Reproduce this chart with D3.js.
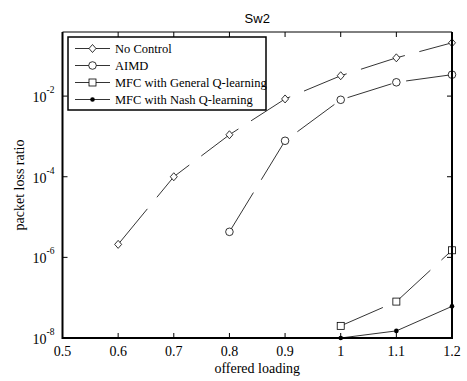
<!DOCTYPE html>
<html>
<head>
<meta charset="utf-8">
<script src="https://cdn.jsdelivr.net/npm/d3@7"></script>
<style>
  body { margin: 0; background: #fff; }
  svg { display: block; }
</style>
</head>
<body>
<svg id="chart" width="467" height="381"></svg>
<script>
// --- data ---
const loadNoCtrl = [0.6, 0.7, 0.8, 0.9, 1.0, 1.1, 1.2];
const lossNoCtrl = [2.1e-6, 1.0e-4, 1.1e-3, 8.5e-3, 3.2e-2, 8.9e-2, 2.1e-1];
const loadAimd = [0.8, 0.9, 1.0, 1.1, 1.2];
const lossAimd = [4.3e-6, 7.8e-4, 8.1e-3, 2.2e-2, 3.4e-2];
const loadMfc = [1.0, 1.1, 1.2];
const lossGeneral = [2.0e-8, 8.0e-8, 1.5e-6];
const lossNash = [1.0e-8, 1.5e-8, 6.1e-8];
const seriesNames = ['No Control', 'AIMD', 'MFC with General Q-learning', 'MFC with Nash Q-learning'];
const xTicks = [0.5, 0.6, 0.7, 0.8, 0.9, 1, 1.1, 1.2];
const yTickExps = [-8, -6, -4, -2];

const svg = d3.select('#chart');
const margin = { left: 62.5, right: 452, top: 32, bottom: 338 };

const x = d3.scaleLinear().domain([0.5, 1.2]).range([margin.left, margin.right]);
const y = d3.scaleLog().domain([1e-8, Math.pow(10, -0.41)]).range([margin.bottom, margin.top]);

const serif = 'Liberation Serif, Times New Roman, serif';

// ticks (inward, on all four sides)
const tickLen = 5;
const g = svg.append('g').attr('stroke', '#000').attr('stroke-width', 1);
xTicks.forEach(t => {
  g.append('line').attr('x1', x(t)).attr('x2', x(t)).attr('y1', margin.bottom).attr('y2', margin.bottom - tickLen);
  g.append('line').attr('x1', x(t)).attr('x2', x(t)).attr('y1', margin.top).attr('y2', margin.top + tickLen);
});
yTickExps.forEach(e => {
  const yy = y(Math.pow(10, e));
  g.append('line').attr('x1', margin.left).attr('x2', margin.left + tickLen).attr('y1', yy).attr('y2', yy);
  g.append('line').attr('x1', margin.right).attr('x2', margin.right - tickLen).attr('y1', yy).attr('y2', yy);
});

// tick labels
svg.selectAll('.xlab').data(xTicks).join('text')
  .attr('x', d => x(d)).attr('y', margin.bottom + 18)
  .attr('text-anchor', 'middle')
  .attr('font-family', serif).attr('font-size', 14)
  .text(d => d === 1 ? '1' : d3.format('.1f')(d));

yTickExps.forEach(e => {
  const t = svg.append('text')
    .attr('x', margin.left - 8).attr('y', y(Math.pow(10, e)) + 6)
    .attr('text-anchor', 'end')
    .attr('font-family', serif).attr('font-size', 14);
  t.append('tspan').text('10');
  t.append('tspan').attr('dy', -9).attr('font-size', 9.5).text(String(e));
});

// axis labels and title
svg.append('text').attr('x', (margin.left + margin.right) / 2).attr('y', 373)
  .attr('text-anchor', 'middle').attr('font-family', serif).attr('font-size', 14)
  .text('offered loading');
svg.append('text').attr('transform', `translate(24,${(margin.top + margin.bottom) / 2}) rotate(-90)`)
  .attr('text-anchor', 'middle').attr('font-family', serif).attr('font-size', 14)
  .text('packet loss ratio');
svg.append('text').attr('x', (margin.left + margin.right) / 2).attr('y', 23)
  .attr('text-anchor', 'middle').attr('font-family', 'Liberation Sans, Arial, sans-serif').attr('font-size', 13)
  .text('Sw2');

// series
const line = d3.line().x(d => x(d[0])).y(d => y(d[1]));
const series = [
  { xs: loadNoCtrl, ys: lossNoCtrl, marker: 'diamond', dash: '46,15' },
  { xs: loadAimd, ys: lossAimd, marker: 'circle', dash: '46,15' },
  { xs: loadMfc, ys: lossGeneral, marker: 'square', dash: '46,15' },
  { xs: loadMfc, ys: lossNash, marker: 'dot', dash: null }
];

function drawMarker(sel, type, cx, cy) {
  if (type === 'diamond') {
    sel.append('path').attr('d', `M${cx},${cy - 4}L${cx + 3.5},${cy}L${cx},${cy + 4}L${cx - 3.5},${cy}Z`)
      .attr('fill', '#fff').attr('stroke', '#000').attr('stroke-width', 0.8);
  } else if (type === 'circle') {
    sel.append('circle').attr('cx', cx).attr('cy', cy).attr('r', 3.8)
      .attr('fill', '#fff').attr('stroke', '#000').attr('stroke-width', 0.8);
  } else if (type === 'square') {
    sel.append('rect').attr('x', cx - 3.5).attr('y', cy - 3.5).attr('width', 7).attr('height', 7)
      .attr('fill', '#fff').attr('stroke', '#000').attr('stroke-width', 0.8);
  } else {
    sel.append('circle').attr('cx', cx).attr('cy', cy).attr('r', 2.3).attr('fill', '#000');
  }
}

const plot = svg.append('g');
series.forEach(s => {
  const pts = s.xs.map((v, i) => [v, s.ys[i]]);
  plot.append('path').attr('d', line(pts))
    .attr('fill', 'none').attr('stroke', '#000').attr('stroke-width', 0.8)
    .attr('stroke-dasharray', s.dash);
  pts.forEach(p => drawMarker(plot, s.marker, x(p[0]), y(p[1])));
});

// axes box
svg.append('line').attr('x1', margin.left).attr('x2', margin.right).attr('y1', margin.top).attr('y2', margin.top)
  .attr('stroke', '#000').attr('stroke-width', 1);
svg.append('path')
  .attr('d', `M${margin.left},${margin.top}V${margin.bottom}H${margin.right}V${margin.top}`)
  .attr('fill', 'none').attr('stroke', '#000').attr('stroke-width', 2);

// legend
const leg = svg.append('g');
leg.append('rect').attr('x', 68).attr('y', 37).attr('width', 198).attr('height', 73)
  .attr('fill', '#fff').attr('stroke', '#000').attr('stroke-width', 1.5);
seriesNames.forEach((name, i) => {
  const ly = 48.5 + i * 17;
  leg.append('line').attr('x1', 75).attr('x2', 110).attr('y1', ly).attr('y2', ly)
    .attr('stroke', '#000').attr('stroke-width', 0.8);
  drawMarker(leg, series[i].marker, 92.5, ly);
  leg.append('text').attr('x', 115).attr('y', ly + 4.5)
    .attr('font-family', serif).attr('font-size', 12.5).text(name);
});
</script>
</body>
</html>
